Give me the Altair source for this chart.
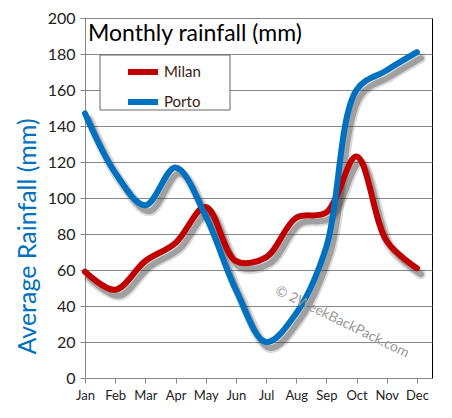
import altair as alt
import pandas as pd

months = ["Jan", "Feb", "Mar", "Apr", "May", "Jun", "Jul", "Aug", "Sep", "Oct", "Nov", "Dec"]
milan = [59, 49, 65, 75, 95, 65, 67, 89, 92, 123, 76, 61]
porto = [147, 114, 96, 117, 90, 49, 20, 36, 73, 160, 171, 181]
series_names = ["Milan", "Porto"]
series_colors = ["#C00000", "#0070C0"]
y_ticks = list(range(0, 201, 20))

rows = []
for name, vals in zip(series_names, [milan, porto]):
    for i, v in enumerate(vals):
        rows.append({"idx": i, "month": months[i], "series": name, "value": v})
df = pd.DataFrame(rows)

FONT = "Lato"
label_expr = "[" + ",".join("'%s'" % m for m in months) + "][datum.value]"

x_enc = alt.X("idx:Q", scale=alt.Scale(domain=[0, 11.5], nice=False, zero=False),
              axis=alt.Axis(values=list(range(12)), labelExpr=label_expr, title=None,
                            grid=False, domainColor="#888", tickColor="#888", tickSize=5,
                            labelFontSize=13, labelColor="#222", labelPadding=6,
                            labelFlush=False, labelFont=FONT))
y_enc = alt.Y("value:Q", scale=alt.Scale(domain=[0, 200], nice=False),
              axis=alt.Axis(values=y_ticks, title="Average Rainfall (mm)",
                            titleColor="#0070C0", titleFontSize=25, titleFont=FONT,
                            titleFontWeight="normal", titleX=-58, titleY=218,
                            titleAngle=-90, titleAlign="center", titleBaseline="middle",
                            gridColor="#888", gridWidth=1, domainColor="#888",
                            tickColor="#888", tickSize=5, labelFontSize=16,
                            labelColor="#222", labelPadding=5, labelFlush=False,
                            labelFont=FONT))

base = alt.Chart(df)

shadow1 = base.mark_line(interpolate="catmull-rom", strokeWidth=10, opacity=0.18,
                         xOffset=4, yOffset=6, color="#333", strokeCap="round").encode(
    x=x_enc, y=y_enc, detail="series:N")
shadow2 = base.mark_line(interpolate="catmull-rom", strokeWidth=6, opacity=0.35,
                         xOffset=4, yOffset=6, color="#333", strokeCap="round").encode(
    x=x_enc, y=y_enc, detail="series:N")

legend_box = alt.Chart(pd.DataFrame({"k": [0]})).mark_rect(
    fill="white", stroke="#666", strokeWidth=1).encode(
    x=alt.value(15), x2=alt.value(145), y=alt.value(37), y2=alt.value(92))

lines = base.mark_line(interpolate="catmull-rom", strokeWidth=6, strokeCap="round").encode(
    x=x_enc, y=y_enc,
    color=alt.Color("series:N", scale=alt.Scale(domain=series_names, range=series_colors),
                    legend=alt.Legend(title=None, orient="none", legendX=40, legendY=36,
                                      direction="vertical", symbolType="stroke",
                                      symbolStrokeWidth=6, symbolSize=900,
                                      labelFontSize=15, labelFont=FONT, labelColor="#3a2010",
                                      padding=0, rowPadding=-6, labelOffset=3,
                                      symbolOffset=0)))

title_df = pd.DataFrame({"t": ["Monthly rainfall (mm)"]})
title = alt.Chart(title_df).mark_text(align="left", baseline="middle", fontSize=23,
                                      font=FONT, color="black").encode(
    x=alt.value(3), y=alt.value(16), text="t:N")

wm_df = pd.DataFrame({"t": ["© 2WeekBackPack.com"]})
wm = alt.Chart(wm_df).mark_text(align="center", baseline="middle", fontSize=14,
                                font=FONT, color="#999", angle=26).encode(
    x=alt.value(257), y=alt.value(304), text="t:N")

chart = alt.layer(legend_box, shadow1, shadow2, lines, title, wm).properties(
    width=347, height=360,
    autosize=alt.AutoSizeParams(type="none"),
    padding={"left": 77, "top": 10, "right": 12, "bottom": 32},
).configure_view(stroke="black", strokeWidth=1)

chart.save("out.html", embed_options={"renderer": "svg", "actions": False})
